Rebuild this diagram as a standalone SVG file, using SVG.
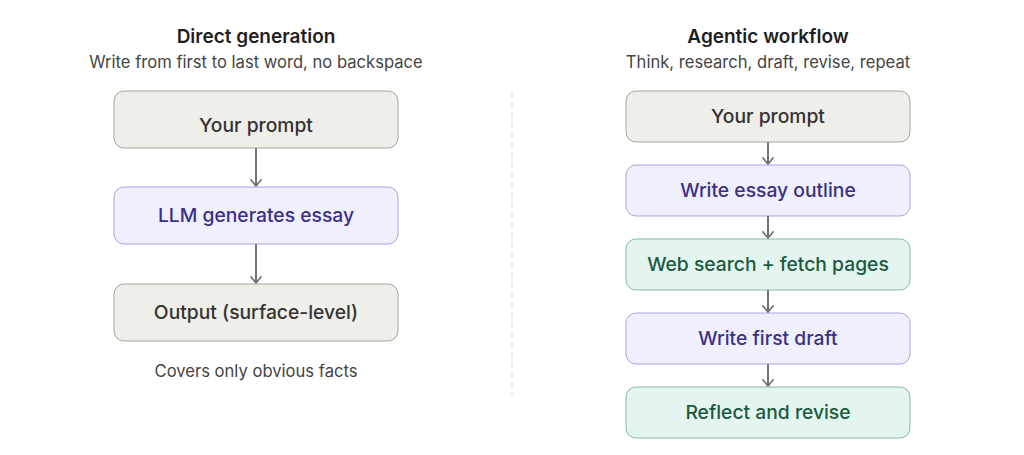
<svg xmlns="http://www.w3.org/2000/svg" width="1024" height="455" viewBox="0 0 1024 455">
<defs>
<marker id="arr" viewBox="0 0 12 12" refX="11" refY="6" markerWidth="12" markerHeight="12" markerUnits="userSpaceOnUse" orient="auto">
<path d="M5 1 L11 6 L5 11" fill="none" stroke="#737373" stroke-width="1.8" stroke-linecap="round" stroke-linejoin="round"/>
</marker>
<style>
text{font-family:Inter,"Noto Sans","Liberation Sans",sans-serif;text-anchor:middle}
.title{font-size:19px;font-weight:600;fill:#1f1f1f}
.sub{font-size:16.6px;fill:#444}
.lbl{font-size:19.3px;font-weight:500}
.gray rect{fill:#efeee9;stroke:#a5a49e;stroke-width:1}
.gray text{fill:#333}
.purple rect{fill:#efeffd;stroke:#a8a4e4;stroke-width:1}
.purple text{fill:#3b2f86}
.green rect{fill:#e3f5ee;stroke:#82bba3;stroke-width:1}
.green text{fill:#1b5a3f}
.conn line{stroke:#737373;stroke-width:2;marker-end:url(#arr)}
</style>
</defs>
<rect width="1024" height="455" fill="#fff"/>
<g id="headers">
<text class="title" x="256" y="43">Direct generation</text>
<text class="sub" x="256" y="68">Write from first to last word, no backspace</text>
<text class="title" x="768" y="43">Agentic workflow</text>
<text class="sub" x="768" y="68">Think, research, draft, revise, repeat</text>
</g>
<line id="divider" x1="512" y1="92" x2="512" y2="395" stroke="#e8e8e8" stroke-width="1.5" stroke-dasharray="6 4"/>
<g id="l-prompt" class="gray"><rect x="114" y="91" width="284" height="57" rx="10"/><text class="lbl" x="256" y="132">Your prompt</text></g>
<g id="l-llm" class="purple"><rect x="114" y="187" width="284" height="57" rx="10"/><text class="lbl" x="256" y="222">LLM generates essay</text></g>
<g id="l-output" class="gray"><rect x="114" y="284" width="284" height="57" rx="10"/><text class="lbl" x="256" y="319">Output (surface-level)</text></g>
<text id="l-note" class="sub" x="256" y="377">Covers only obvious facts</text>
<g id="r-prompt" class="gray"><rect x="626" y="91" width="284" height="51" rx="10"/><text class="lbl" x="768" y="123">Your prompt</text></g>
<g id="r-outline" class="purple"><rect x="626" y="165" width="284" height="51" rx="10"/><text class="lbl" x="768" y="197">Write essay outline</text></g>
<g id="r-search" class="green"><rect x="626" y="239" width="284" height="51" rx="10"/><text class="lbl" x="768" y="271">Web search + fetch pages</text></g>
<g id="r-draft" class="purple"><rect x="626" y="313" width="284" height="51" rx="10"/><text class="lbl" x="768" y="345">Write first draft</text></g>
<g id="r-revise" class="green"><rect x="626" y="387" width="284" height="51" rx="10"/><text class="lbl" x="768" y="419">Reflect and revise</text></g>
<g id="connectors" class="conn">
<line x1="256" y1="148" x2="256" y2="186"/>
<line x1="256" y1="244" x2="256" y2="283"/>
<line x1="768" y1="142" x2="768" y2="164"/>
<line x1="768" y1="216" x2="768" y2="238"/>
<line x1="768" y1="290" x2="768" y2="312"/>
<line x1="768" y1="364" x2="768" y2="386"/>
</g>
</svg>
